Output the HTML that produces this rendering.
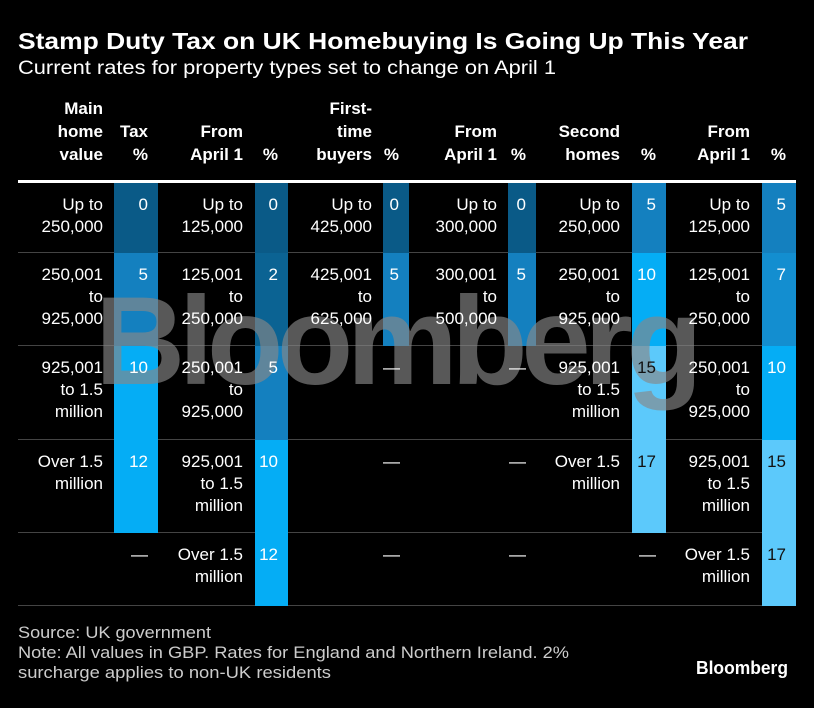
<!DOCTYPE html>
<html><head><meta charset="utf-8">
<style>
html,body{margin:0;padding:0;background:#000;}
#root{position:relative;width:814px;height:708px;background:#000;overflow:hidden;font-family:"Liberation Sans",Arial,sans-serif;color:#fff;}
.abs{position:absolute;}
.hdr{position:absolute;font-weight:bold;font-size:17px;line-height:23px;text-align:right;white-space:pre;z-index:3;}
.lbl{position:absolute;font-size:17px;line-height:22px;text-align:right;white-space:pre;z-index:3;}
.fill{position:absolute;z-index:1;}
.rate{position:absolute;font-size:17px;line-height:22px;text-align:right;box-sizing:border-box;padding-right:10px;padding-top:11px;z-index:3;}
.sep{position:absolute;left:18px;width:778px;height:1px;background:#444;z-index:1;}
</style></head>
<body>
<div id="root">
<svg class="abs" style="left:0;top:0" width="814" height="90">
<text x="18" y="49" font-family="Liberation Sans, sans-serif" font-weight="bold" font-size="23" fill="#fff" textLength="730" lengthAdjust="spacingAndGlyphs">Stamp Duty Tax on UK Homebuying Is Going Up This Year</text>
<text x="18" y="74" font-family="Liberation Sans, sans-serif" font-size="19" fill="#fff" textLength="538" lengthAdjust="spacingAndGlyphs">Current rates for property types set to change on April 1</text>
</svg>
<div class="abs" style="left:18px;top:180px;width:778px;height:3px;background:#fff"></div>
<div id="table"></div>
<div class="abs" style="left:95px;top:279px;font-size:125px;font-weight:bold;letter-spacing:-6.5px;color:rgba(135,135,135,0.65);pointer-events:none;line-height:125px;z-index:2;white-space:nowrap">Bloomberg</div>
<svg class="abs" style="left:0;top:615px" width="814" height="93">
<text x="18" y="23" font-family="Liberation Sans, sans-serif" font-size="17" fill="#ccc" textLength="193" lengthAdjust="spacingAndGlyphs">Source: UK government</text>
<text x="18" y="43" font-family="Liberation Sans, sans-serif" font-size="17" fill="#ccc" textLength="551" lengthAdjust="spacingAndGlyphs">Note: All values in GBP. Rates for England and Northern Ireland. 2%</text>
<text x="18" y="63" font-family="Liberation Sans, sans-serif" font-size="17" fill="#ccc" textLength="313" lengthAdjust="spacingAndGlyphs">surcharge applies to non-UK residents</text>
<text x="788" y="59" text-anchor="end" font-family="Liberation Sans, sans-serif" font-weight="bold" font-size="18" fill="#fff" textLength="92" lengthAdjust="spacingAndGlyphs">Bloomberg</text>
</svg>
</div>
<script>
const headers = ["Main\nhome\nvalue","Tax\n%","From\nApril 1","%","First-\ntime\nbuyers","%","From\nApril 1","%","Second\nhomes","%","From\nApril 1","%"];
const mainLabels = ["Up to\n250,000","250,001\nto\n925,000","925,001\nto 1.5\nmillion","Over 1.5\nmillion",""];
const mainRates = [0,5,10,12,null];
const mainAprLabels = ["Up to\n125,000","125,001\nto\n250,000","250,001\nto\n925,000","925,001\nto 1.5\nmillion","Over 1.5\nmillion"];
const mainAprRates = [0,2,5,10,12];
const ftbLabels = ["Up to\n425,000","425,001\nto\n625,000","","",""];
const ftbRates = [0,5,null,null,null];
const ftbAprLabels = ["Up to\n300,000","300,001\nto\n500,000","","",""];
const ftbAprRates = [0,5,null,null,null];
const secLabels = ["Up to\n250,000","250,001\nto\n925,000","925,001\nto 1.5\nmillion","Over 1.5\nmillion",""];
const secRates = [5,10,15,17,null];
const secAprLabels = ["Up to\n125,000","125,001\nto\n250,000","250,001\nto\n925,000","925,001\nto 1.5\nmillion","Over 1.5\nmillion"];
const secAprRates = [5,7,10,15,17];

const groups = [[mainLabels,mainRates],[mainAprLabels,mainAprRates],[ftbLabels,ftbRates],[ftbAprLabels,ftbAprRates],[secLabels,secRates],[secAprLabels,secAprRates]];
const labelRight = [103,243,372,497,620,750];
const rateX = [[114,158],[255,288],[383,409],[508,536],[632,666],[762,796]];
const rowTop = [183,253,346,440,533,606];

function color(v){
  if(v<=0) return "#0a5a87";
  if(v<=2) return "#0b6393";
  if(v<=5) return "#1480bf";
  if(v<=7) return "#138ed0";
  if(v<=12) return "#05adf5";
  return "#5cc9fb";
}
const T = document.getElementById('table');
headers.forEach((h,i)=>{
  const g = Math.floor(i/2);
  const d = document.createElement('div');
  d.className='hdr';
  
  
  d.textContent=h;
  const right = i%2===0 ? labelRight[g] : rateX[g][1]-10;
  d.style.right = (814-right)+'px';
  d.style.bottom = (708-166)+'px';
  T.appendChild(d);
});
for(let r=1;r<rowTop.length;r++){
  const s=document.createElement('div');
  s.className='sep';
  
  
  s.style.top=(rowTop[r]-1)+'px';
  T.appendChild(s);
}
groups.forEach((g,gi)=>{
  const [labels,rates]=g;
  labels.forEach((l,r)=>{
    const top=rowTop[r], h=rowTop[r+1]-rowTop[r];
    const v=rates[r];
    const left=rateX[gi][0], w=rateX[gi][1]-rateX[gi][0];
    if(v!==null){
      const f=document.createElement('div');
      f.className='fill';
      
      
      f.style.left=left+'px'; f.style.width=w+'px';
      f.style.top=top+'px'; f.style.height=h+'px';
      f.style.background=color(v);
      T.appendChild(f);
    }
    const c=document.createElement('div');
    c.className='rate';
    
    
    c.style.left=left+'px';
    c.style.width=w+'px';
    c.style.top=top+'px';
    c.style.height=h+'px';
    if(v===null){ c.textContent='—'; }
    else { c.textContent=v; if(v>=15) c.style.color='#111'; }
    T.appendChild(c);
    if(l){
      const d=document.createElement('div');
      d.className='lbl';
      
      
      d.textContent=l;
      d.style.right=(814-labelRight[gi])+'px';
      d.style.top=(top+11)+'px';
      T.appendChild(d);
    }
  });
});
</script>
</body></html>
